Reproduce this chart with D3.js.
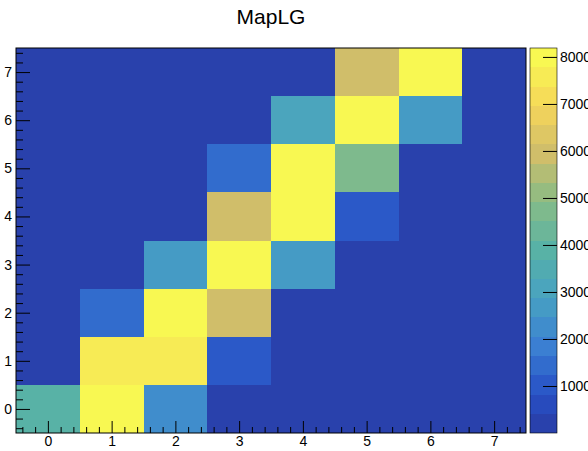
<!DOCTYPE html>
<html lang="en">
<head>
    <meta charset="UTF-8">
    <title>MapLG</title>
    <style>
        body { margin: 0; background: #fff; }
        text { font-family: "Liberation Sans", Arial, sans-serif; }
        .cell { shape-rendering: crispEdges; }
        .axis path { display: none; }
        .axis line { stroke: #000; stroke-width: 1px; }
        .axis text { font-size: 14px; fill: #000; }
    </style>
    <script src="https://d3js.org/d3.v7.min.js"></script>
</head>
<body>
    <div id="chart"></div>
    <script>
        // bins: columns 0..7 (x), rows 0..7 (y)
        const X_BINS = [0, 1, 2, 3, 4, 5, 6, 7];
        const Y_BINS = [0, 1, 2, 3, 4, 5, 6, 7];
        // counts, row by row from y=0 upward
        const COUNTS = [
            [3800, 8150, 2200, 100, 100, 100, 100, 100],
            [100, 7500, 7500, 1000, 100, 100, 100, 100],
            [100, 1400, 8150, 6000, 100, 100, 100, 100],
            [100, 100, 2800, 8150, 2600, 100, 100, 100],
            [100, 100, 100, 6000, 8190, 1000, 100, 100],
            [100, 100, 100, 1400, 8150, 4900, 100, 100],
            [100, 100, 100, 100, 3000, 8150, 2600, 100],
            [100, 100, 100, 100, 100, 6000, 8150, 100]
        ];
        const PALETTE_TICKS = [1000, 2000, 3000, 4000, 5000, 6000, 7000, 8000];
        const TITLE = "MapLG";

        var margin = { left: 16, right: 526, top: 48, bottom: 433 };
        var width = 588, height = 451;

        var x_scale = d3.scaleLinear().domain([-0.5, 7.5]).range([margin.left, margin.right]);
        var y_scale = d3.scaleLinear().domain([-0.5, 7.5]).range([margin.bottom, margin.top]);

        // palette (bird-like, as it looks on screen)
        var stops = [0, 0.125, 0.25, 0.375, 0.5, 0.625, 0.75, 0.875, 1];
        var stop_colors = ["#2b389c", "#2750c6", "#3b80d2", "#48a2c2", "#58b2a6",
            "#88bc86", "#cfbe6a", "#f6d65a", "#f8f852"];
        var pal = d3.scaleLinear().domain(stops).range(stop_colors).interpolate(d3.interpolateRgb);

        var ndiv = 20, ncolors = 255;
        var zmax = d3.max(COUNTS.flat());
        var dz = zmax / ndiv;
        function levelColor(level) {
            var idx = Math.floor((level + 0.99) * ncolors / ndiv);
            return pal(Math.min(idx, ncolors - 1) / (ncolors - 1));
        }
        function valueColor(v) {
            var level = Math.min(Math.floor(v / dz), ndiv - 1);
            return levelColor(level);
        }

        const svg = d3.select("#chart").append("svg")
            .attr("width", width)
            .attr("height", height);

        // cells
        var cells = [];
        Y_BINS.forEach(function (yb, j) {
            X_BINS.forEach(function (xb, i) {
                cells.push({ x: xb, y: yb, v: COUNTS[j][i] });
            });
        });
        svg.append("g").selectAll("rect")
            .data(cells)
            .join("rect")
            .attr("class", "cell")
            .attr("x", d => Math.round(x_scale(d.x - 0.5)))
            .attr("y", d => Math.round(y_scale(d.y + 0.5)))
            .attr("width", d => Math.round(x_scale(d.x + 0.5)) - Math.round(x_scale(d.x - 0.5)))
            .attr("height", d => Math.round(y_scale(d.y - 0.5)) - Math.round(y_scale(d.y + 0.5)))
            .attr("fill", d => valueColor(d.v));

        // minor ticks
        var minor = d3.range(-0.4, 7.5, 0.2).filter(v => Math.abs(v - Math.round(v)) > 0.01);

        svg.append("g").attr("class", "axis")
            .attr("transform", "translate(0," + margin.bottom + ")")
            .call(d3.axisBottom(x_scale).tickValues(minor).tickFormat("").tickSize(-6));
        svg.append("g").attr("class", "axis")
            .attr("transform", "translate(0," + margin.bottom + ")")
            .call(d3.axisBottom(x_scale).tickValues(X_BINS).tickFormat(d3.format("d")).tickSize(-12).tickPadding(3));

        svg.append("g").attr("class", "axis")
            .attr("transform", "translate(" + margin.left + ",0)")
            .call(d3.axisLeft(y_scale).tickValues(minor).tickFormat("").tickSize(-7));
        svg.append("g").attr("class", "axis")
            .attr("transform", "translate(" + margin.left + ",0)")
            .call(d3.axisLeft(y_scale).tickValues(Y_BINS).tickFormat(d3.format("d")).tickSize(-14).tickPadding(4));

        // frame
        svg.append("rect")
            .attr("x", margin.left).attr("y", margin.top)
            .attr("width", margin.right - margin.left)
            .attr("height", margin.bottom - margin.top)
            .attr("fill", "none").attr("stroke", "#000").attr("stroke-width", 1);

        // palette
        var pal_x0 = 530, pal_x1 = 557;
        var z_scale = d3.scaleLinear().domain([0, zmax]).range([margin.bottom, margin.top]);
        svg.append("g").selectAll("rect")
            .data(d3.range(ndiv))
            .join("rect")
            .attr("class", "cell")
            .attr("x", pal_x0)
            .attr("y", d => Math.round(z_scale((d + 1) * dz)))
            .attr("width", pal_x1 - pal_x0)
            .attr("height", d => Math.round(z_scale(d * dz)) - Math.round(z_scale((d + 1) * dz)))
            .attr("fill", d => levelColor(d));

        svg.append("g").attr("class", "axis")
            .attr("transform", "translate(" + pal_x1 + ",0)")
            .call(d3.axisRight(z_scale).tickValues(PALETTE_TICKS).tickFormat(d3.format("d")).tickSize(-14).tickPadding(3));

        svg.append("rect")
            .attr("x", pal_x0).attr("y", margin.top)
            .attr("width", pal_x1 - pal_x0)
            .attr("height", margin.bottom - margin.top)
            .attr("fill", "none").attr("stroke", "#000").attr("stroke-width", 0.6);

        // title
        svg.append("text")
            .attr("x", 271).attr("y", 24)
            .attr("text-anchor", "middle")
            .style("font-size", "21px")
            .text(TITLE);
    </script>
</body>
</html>
